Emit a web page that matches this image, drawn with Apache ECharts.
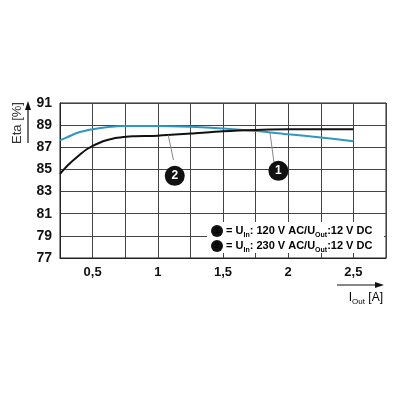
<!DOCTYPE html>
<html>
<head>
<meta charset="utf-8">
<script src="https://cdn.jsdelivr.net/npm/echarts@6/dist/echarts.min.js"></script>
<style>
  html, body { margin: 0; padding: 0; background: #fff; }
  #main { width: 400px; height: 400px; }
</style>
</head>
<body>
<div id="main"></div>
<script>
// curve 1: 120 V AC (blue), curve 2: 230 V AC (black)
var xTicks = [0.5, 1, 1.5, 2, 2.5];
var yTicks = [77, 79, 81, 83, 85, 87, 89, 91];
var curve1X = [0.25, 0.31, 0.39, 0.5, 0.62, 0.75, 1, 1.25, 1.5, 1.75, 2, 2.25, 2.5];
var curve1Y = [87.63, 87.93, 88.33, 88.63, 88.84, 88.93, 88.93, 88.85, 88.7, 88.48, 88.18, 87.88, 87.55];
var curve2X = [0.25, 0.31, 0.39, 0.465, 0.58, 0.66, 0.74, 0.81, 1, 1.25, 1.5, 1.75, 2, 2.25, 2.5];
var curve2Y = [84.6, 85.38, 86.22, 86.89, 87.55, 87.8, 87.93, 88.0, 88.05, 88.24, 88.45, 88.57, 88.62, 88.63, 88.63];
// callouts: [circle x, circle y, leader start x, leader start y, leader end x, leader end y]
var callout1 = [1.925, 84.87, 1.86, 88.35, 1.89, 85.7];
var callout2 = [1.13, 84.42, 1.08, 88.1, 1.12, 85.85];

function pairs(xs, ys) {
    var out = [];
    for (var i = 0; i < xs.length; i++) out.push([xs[i], ys[i]]);
    return out;
}
function callout(c, num) {
    return {
        markPoint: {
            symbol: 'circle',
            symbolSize: 20,
            silent: true,
            itemStyle: { color: '#111' },
            label: { show: true, color: '#fff', fontSize: 12, fontWeight: 'bold', fontFamily: 'Liberation Sans', formatter: num },
            data: [{ coord: [c[0], c[1]] }]
        },
        markLine: {
            symbol: 'none',
            silent: true,
            label: { show: false },
            lineStyle: { color: '#888', width: 1, type: 'solid' },
            data: [[{ coord: [c[2], c[3]] }, { coord: [c[4], c[5]] }]]
        }
    };
}

var chart = echarts.init(document.getElementById('main'));
var s1 = {
    name: '1', type: 'line', smooth: 0.3, showSymbol: false, z: 3,
    lineStyle: { color: '#2f97c1', width: 2 },
    data: pairs(curve1X, curve1Y)
};
var s2 = {
    name: '2', type: 'line', smooth: 0.3, showSymbol: false, z: 3,
    lineStyle: { color: '#111', width: 2 },
    data: pairs(curve2X, curve2Y)
};
Object.assign(s1, callout(callout1, '1'));
Object.assign(s2, callout(callout2, '2'));

var rich = {
    c: { backgroundColor: '#111', borderRadius: 6, width: 12, height: 12, lineHeight: 12, align: 'center',
         color: '#fff', fontSize: 9, fontWeight: 'bold', fontFamily: 'Liberation Sans' },
    t: { fontSize: 11, fontWeight: 'bold', fontFamily: 'Liberation Sans', color: '#111', lineHeight: 15 },
    s: { fontSize: 7, fontWeight: 'bold', fontFamily: 'Liberation Sans', color: '#111', lineHeight: 9, verticalAlign: 'bottom' }
};

chart.setOption({
    animation: false,
    backgroundColor: '#fff',
    grid: { left: 60, right: 14, top: 103, bottom: 142, show: true, borderColor: '#222', borderWidth: 1 },
    xAxis: {
        type: 'value', min: 0.25, max: 2.75, interval: 0.25,
        axisLine: { show: true, lineStyle: { color: '#222', width: 1 } },
        axisTick: { show: false },
        splitLine: { show: true, lineStyle: { color: '#444', width: 1 } },
        axisLabel: {
            margin: 8, color: '#111', fontSize: 13, fontWeight: 'bold', fontFamily: 'Liberation Sans',
            formatter: function (v) {
                return xTicks.indexOf(v) >= 0 ? String(v).replace('.', ',') : '';
            }
        }
    },
    yAxis: {
        type: 'value', min: 77, max: 91, interval: 2,
        axisLine: { show: true, lineStyle: { color: '#222', width: 1 } },
        axisTick: { show: false },
        splitLine: { show: true, lineStyle: { color: '#444', width: 1 } },
        axisLabel: {
            margin: 8, color: '#111', fontSize: 14, fontWeight: 'bold', fontFamily: 'Liberation Sans',
            formatter: function (v) { return yTicks.indexOf(v) >= 0 ? String(v) : ''; }
        }
    },
    series: [s1, s2],
    graphic: [
        // legend box
        { type: 'rect', shape: { x: 207, y: 222, width: 177, height: 31 }, style: { fill: '#fff' }, z: 10 },
        { type: 'text', x: 211, y: 231, z: 11, style: {
            text: '{c|1}{t| = U}{s|In}{t|: 120 V AC/U}{s|Out}{t|:12 V DC}', rich: rich, verticalAlign: 'middle' } },
        { type: 'text', x: 211, y: 246, z: 11, style: {
            text: '{c|2}{t| = U}{s|In}{t|: 230 V AC/U}{s|Out}{t|:12 V DC}', rich: rich, verticalAlign: 'middle' } },
        // y axis title + arrow
        { type: 'text', x: 17, y: 123, rotation: Math.PI / 2, z: 11, style: {
            text: 'Eta [%]', fontSize: 13, fontFamily: 'Liberation Sans', fill: '#333', align: 'center', verticalAlign: 'middle' } },
        { type: 'line', shape: { x1: 28, y1: 143, x2: 28, y2: 108 }, style: { stroke: '#111', lineWidth: 1.2 } },
        { type: 'polygon', shape: { points: [[28, 101], [25, 110], [31, 110]] }, style: { fill: '#111' } },
        // x axis title + arrow
        { type: 'line', shape: { x1: 337, y1: 285, x2: 376, y2: 285 }, style: { stroke: '#111', lineWidth: 1.2 } },
        { type: 'polygon', shape: { points: [[384, 285], [375, 282], [375, 288]] }, style: { fill: '#111' } },
        { type: 'text', x: 383, y: 298, z: 11, style: {
            text: '{a|I}{b|Out}{a| [A]}', align: 'right', verticalAlign: 'middle',
            rich: {
                a: { fontSize: 12, fontFamily: 'Liberation Sans', color: '#333', lineHeight: 15 },
                b: { fontSize: 8, fontFamily: 'Liberation Sans', color: '#333', lineHeight: 9, verticalAlign: 'bottom' }
            } } }
    ]
});
</script>
</body>
</html>
